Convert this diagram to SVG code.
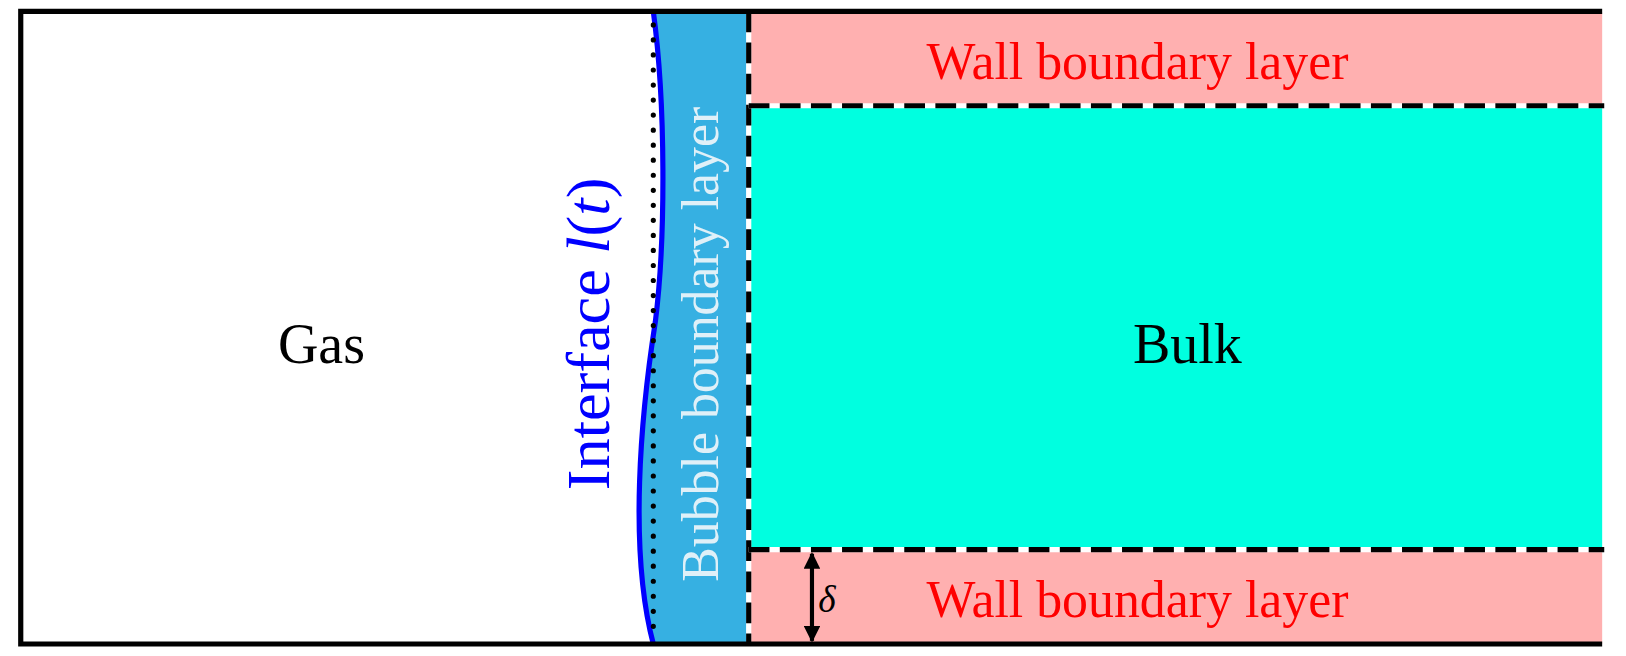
<svg xmlns="http://www.w3.org/2000/svg" width="1626" height="656" viewBox="0 0 1626 656">
<style>
text{font-family:"Liberation Serif","DejaVu Serif",serif;font-size:50px}
.big{font-size:54px}
.intf{font-size:60px}
.dl{font-size:36px;font-style:italic}
.dash{stroke:#000;stroke-width:5;stroke-dasharray:20 10;fill:none}
.wd{stroke:#fff;stroke-width:5;fill:none}
</style>
<defs><marker id="ah" viewBox="0 0 10 10" refX="9" refY="5" markerWidth="4" markerHeight="4" orient="auto-start-reverse"><path d="M0,0L10,5L0,10z" fill="#000"/></marker></defs>
<rect width="1626" height="656" fill="#fff"/>
<g transform="scale(1.037)">
<g id="wall-top"><rect x="724" y="12" width="821" height="91" fill="#ffb0b0"/><text x="1097" y="76" text-anchor="middle" fill="#f00">Wall boundary layer</text></g>
<g id="bulk"><rect x="724" y="103" width="821" height="427" fill="#00ffe0"/><text class="big" x="1145" y="350" text-anchor="middle" fill="#000">Bulk</text></g>
<g id="wall-bottom"><rect x="724" y="530" width="821" height="91" fill="#ffb0b0"/><text x="1097" y="595" text-anchor="middle" fill="#f00">Wall boundary layer</text></g>
<g id="bubble"><path d="M630,11 C642,100 642,230 632,310 C618,400 606,530 630,621 L720,621 L720,11 Z" fill="#36b0e2"/><text transform="translate(692,332) rotate(-90)" text-anchor="middle" fill="#dff0f8">Bubble boundary layer</text></g>
<g id="gas"><text class="big" x="310" y="350" text-anchor="middle" fill="#000">Gas</text></g>
<g id="interface"><text class="intf" transform="translate(587,322) rotate(-90)" text-anchor="middle" fill="#0000ff">Interface <tspan font-style="italic">l</tspan>(<tspan font-style="italic">t</tspan>)</text></g>
<g id="connectors">
<path d="M630,11 C642,100 642,230 632,310 C618,400 606,530 630,621" stroke="#0000ff" stroke-width="5" fill="none"/>
<line x1="630" y1="24" x2="630" y2="618" stroke="#000" stroke-width="5" stroke-dasharray="0 14.5" stroke-linecap="round"/>
<line class="wd" x1="722" y1="11" x2="722" y2="621"/><line class="dash" x1="722" y1="11" x2="722" y2="621"/>
<line class="wd" x1="722" y1="102" x2="1547" y2="102"/><line class="dash" x1="722" y1="102" x2="1547" y2="102"/>
<line class="wd" x1="722" y1="530" x2="1547" y2="530"/><line class="dash" x1="722" y1="530" x2="1547" y2="530"/>
<line x1="783" y1="534" x2="783" y2="618" stroke="#000" stroke-width="4" marker-start="url(#ah)" marker-end="url(#ah)"/>
<text class="dl" x="789" y="590">δ</text>
<path d="M1545,11 H20 V621 H1545" stroke="#000" stroke-width="5" fill="none"/>
</g>
</g>
</svg>
